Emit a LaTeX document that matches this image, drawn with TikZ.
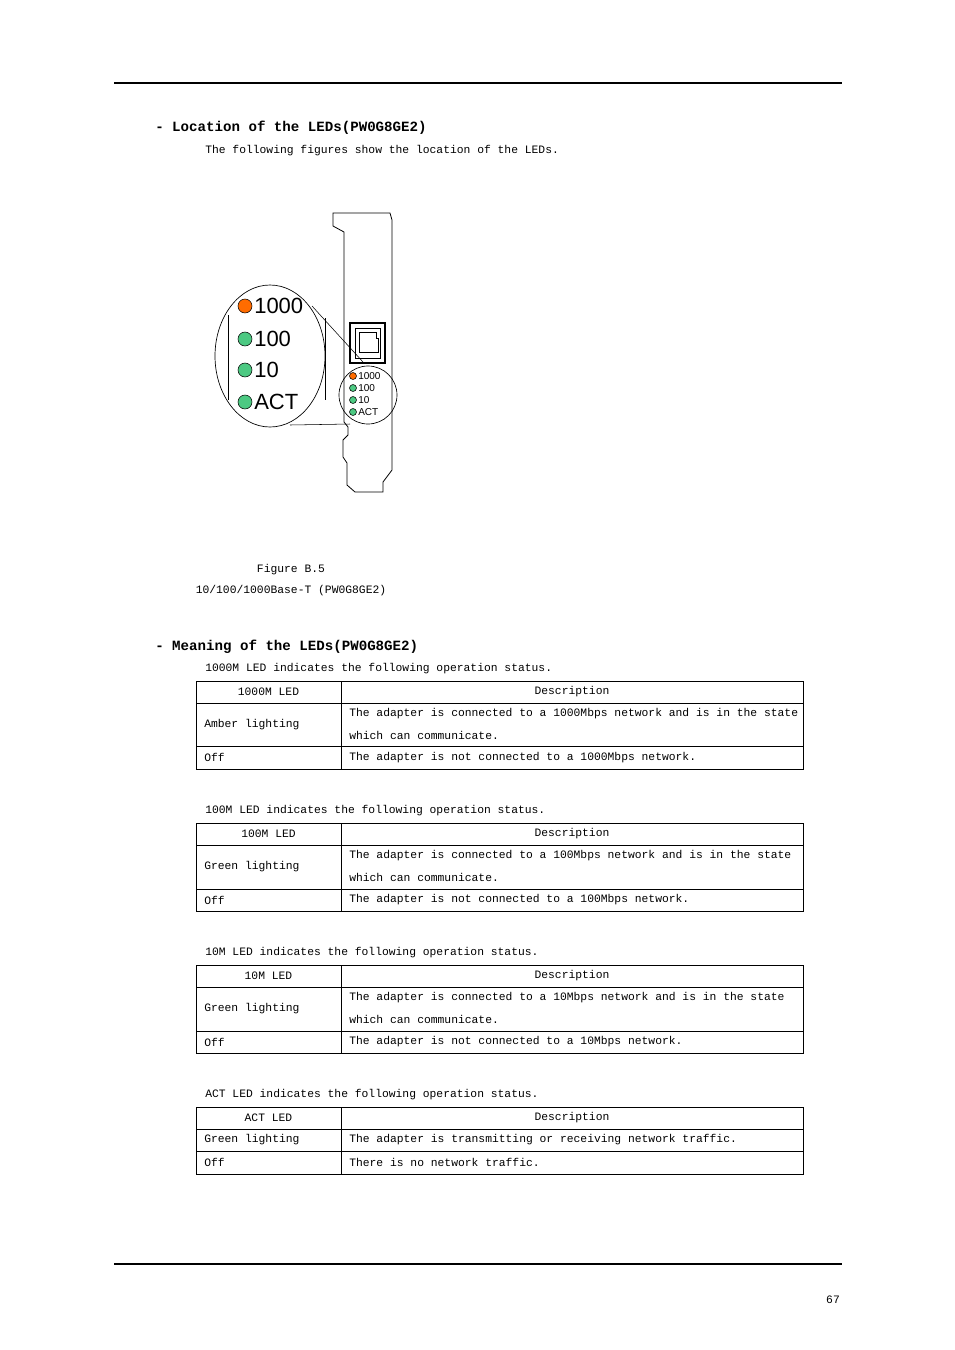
\documentclass[tikz,border=0pt]{standalone}
\usepackage{fontspec}
\setmainfont{Liberation Mono}
\setsansfont{Liberation Sans}
\begin{document}
\begin{tikzpicture}[x=0.75pt,y=-0.75pt,
  body/.style={font=\fontsize{8.5}{10}\selectfont,inner sep=0pt},
  head/.style={font=\fontsize{10.6}{12}\selectfont\bfseries,inner sep=0pt,anchor=west},
  amber/.style={fill=orange!85!red,draw=black,line width=0.4pt},
  grn/.style={fill=teal!60!green!70,draw=black,line width=0.4pt},
  big/.style={font=\sffamily\fontsize{16.5}{18}\selectfont,anchor=west,inner sep=0pt},
  small/.style={font=\sffamily\fontsize{7.5}{8}\selectfont,anchor=west,inner sep=0pt},
  tb/.style={line width=0.7pt}]
\useasboundingbox (0,0) rectangle (954,1350);
\draw[line width=1.8pt] (114,83) -- (842,83);
\draw[line width=1.8pt] (114,1264) -- (842,1264);
\node[body] (pg) at (833,1300) {67};
\node[head] (h1) at (155,128) {- Location of the LEDs(PW0G8GE2)};
\node[body,anchor=west] (t1) at (205,151) {The following figures show the location of the LEDs.};
% bracket
\draw[line width=0.6pt] (333,213) -- (390,213) -- (392,220) -- (392,470) -- (383,482) -- (383,492) -- (355,492) -- (347,485) -- (347,463) -- (343,457) -- (343,440) -- (348,435) -- (348,427) -- (344,422) -- (344,232) -- (333,226) -- cycle;
\draw[line width=0.8pt] (350,323) rectangle (385,363);
\draw[line width=0.6pt] (355,328) rectangle (380,358);
\draw[line width=0.6pt] (359,332) -- (376,332) -- (376,338) -- (378,338) -- (378,352) -- (359,352) -- cycle;
\draw[line width=0.5pt] (368,395) circle (29);
\draw[line width=0.5pt] (270,356) ellipse (55 and 71);
\draw (228,315) -- (228,400);
\draw (325,318) -- (325,400);
\draw (312,306) -- (363,362);
\draw (290,425) -- (350,424);
\foreach \y/\t/\s in {306/1000/amber,339/100/grn,370/10/grn,402/ACT/grn}{
  \draw[\s] (245,\y) circle (7);
  \node[big] at (254,\y) {\t};
  }
\foreach \y/\t/\s [count=\i] in {376/1000/amber,388/100/grn,400/10/grn,412/ACT/grn}{
  \draw[\s] (353,\y) circle (3.5);
  \node[small] at (358,\y) {\t};
  }
\node[body] (cap1) at (291,570) {Figure B.5};
\node[body] (cap2) at (291,591) {10/100/1000Base-T (PW0G8GE2)};
\node[head] (h2) at (155,647) {- Meaning of the LEDs(PW0G8GE2)};
% tables
\foreach \cy/\top/\a/\b/\c/\led/\sp in {
  669/681/703/746/769/1000M/1000Mbps,
  811/823/845/889/911/100M/100Mbps,
  953/965/987/1031/1053/10M/10Mbps}{
  \node[body,anchor=west] at (205,\cy) {\led{} LED indicates the following operation status.};
  \draw[tb] (196,\top) rectangle (803,\c);
  \draw[tb] (196,\a) -- (803,\a);
  \draw[tb] (196,\b) -- (803,\b);
  \draw[tb] (341,\top) -- (341,\c);
  \node[body] at (268.5,{(\top+\a)/2}) {\led{} LED};
  \node[body] at (572,{(\top+\a)/2}) {Description};
  \node[body,anchor=west] at (349,{\a+11}) {The adapter is connected to a \sp{} network and is in the state};
  \node[body,anchor=west] at (349,{\a+32}) {which can communicate.};
  \node[body,anchor=west] at (204,{(\a+\b)/2}) {\ifnum\top=681 Amber\else Green\fi{} lighting};
  \node[body,anchor=west] at (204,{(\b+\c)/2}) {Off};
  \node[body,anchor=west] at (349,{(\b+\c)/2}) {The adapter is not connected to a \sp{} network.};
}
\node[body,anchor=west] at (205,1095) {ACT LED indicates the following operation status.};
\draw[tb] (196,1107) rectangle (803,1174);
\draw[tb] (196,1129) -- (803,1129);
\draw[tb] (196,1151) -- (803,1151);
\draw[tb] (341,1107) -- (341,1174);
\node[body] at (268.5,1118) {ACT LED};
\node[body] at (572,1118) {Description};
\node[body,anchor=west] at (204,1140) {Green lighting};
\node[body,anchor=west] at (349,1140) {The adapter is transmitting or receiving network traffic.};
\node[body,anchor=west] at (204,1162) {Off};
\node[body,anchor=west] at (349,1162) {There is no network traffic.};
\end{tikzpicture}
\end{document}
